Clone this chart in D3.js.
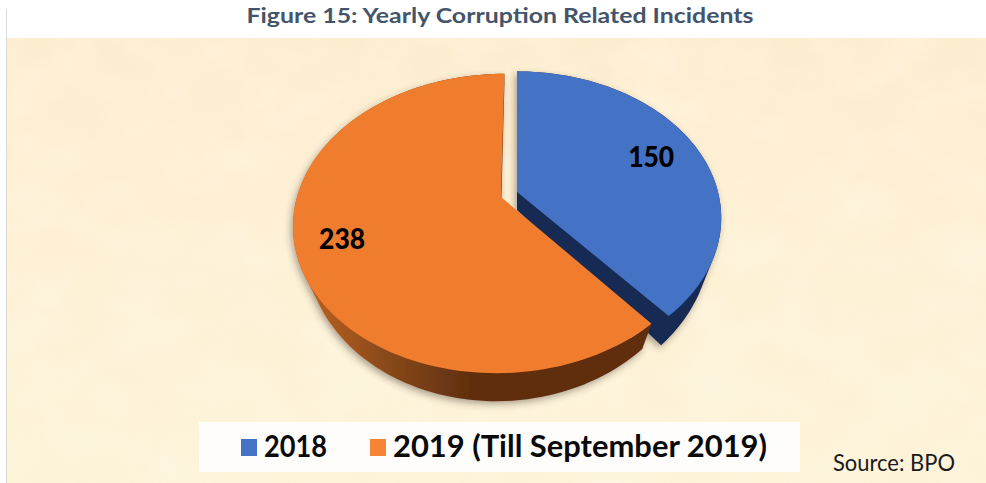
<!DOCTYPE html>
<html>
<head>
<meta charset="utf-8">
<title>Figure 15: Yearly Corruption Related Incidents</title>
<script src="https://d3js.org/d3.v7.min.js"></script>
<style>
    html, body { margin: 0; background: #fff; }
    svg { display: block; }
    text { font-family: Lato, "Open Sans", sans-serif; }
</style>
</head>
<body>
<svg id="chart" width="986" height="483"></svg>
<script>
var titleText = "Figure 15: Yearly Corruption Related Incidents";
var sourceText = "Source: BPO";
var categories = ["2018", "2019 (Till September 2019)"];
var values = [150, 238];
var topColors = ["#4472c4", "#f07d2e"];
var swatchColors = ["#4472c4", "#f58535"];

var svg = d3.select("#chart");
var defs = svg.append("defs");

// parchment background
var bgGrad = defs.append("linearGradient").attr("id", "bgGrad")
    .attr("x1", 0).attr("y1", 0).attr("x2", 0).attr("y2", 1);
bgGrad.append("stop").attr("offset", 0).attr("stop-color", "#fdedcf");
bgGrad.append("stop").attr("offset", 0.55).attr("stop-color", "#fdf1d6");
bgGrad.append("stop").attr("offset", 1).attr("stop-color", "#fdf3d8");

var tex = defs.append("filter").attr("id", "paper")
    .attr("x", 0).attr("y", 0).attr("width", 1).attr("height", 1);
tex.append("feTurbulence").attr("type", "fractalNoise")
    .attr("baseFrequency", "0.016 0.022").attr("numOctaves", 3).attr("seed", 7);
tex.append("feColorMatrix").attr("type", "matrix")
    .attr("values", "0 0 0 0 1  0 0 0 0 0.97  0 0 0 0 0.86  1.3 0 0 0 -0.45");

svg.append("rect").attr("x", 7).attr("y", 38).attr("width", 979).attr("height", 445)
    .attr("fill", "url(#bgGrad)");
svg.append("rect").attr("x", 7).attr("y", 38).attr("width", 979).attr("height", 445)
    .attr("filter", "url(#paper)").attr("opacity", 0.45);
svg.append("rect").attr("x", 6).attr("y", 9).attr("width", 1).attr("height", 474)
    .attr("fill", "#d8d8d8");

svg.append("text").attr("x", 500).attr("y", 22.5).attr("text-anchor", "middle")
    .attr("font-size", 21).attr("font-weight", 700).attr("fill", "#44546a")
    .attr("textLength", 507).attr("lengthAdjust", "spacingAndGlyphs")
    .text(titleText);

// pie slices, perspective projection of the disc
var pie = d3.pie().sort(null)(values);
var persp = 0.177;
var slices = [
    { center: [517, 192], r: 201, h: 142, shear: 0, sideR: 0.95, sideH: 1.09, depth: 18, labelAt: 0.745 },
    { center: [501, 197], r: 204, h: 145, shear: 4, sideR: 0.94, sideH: 1.057, depth: 18, labelAt: 0.785 }
];

function project(s, ang, f, side) {
    var x = Math.sin(ang) * f, z = Math.cos(ang) * f;
    var w = 1 / (1 + persp * z);
    var rx = side ? s.r * s.sideR : s.r, ry = side ? s.h * s.sideH : s.h;
    return [s.center[0] + (rx * x + s.shear * z) * w, s.center[1] + (side ? s.depth : 0) - ry * z * w];
}

function sectorPoints(s, d, side) {
    var steps = d3.range(0, 121).map(function(i) {
        return project(s, d.startAngle + (d.endAngle - d.startAngle) * i / 120, 1, side);
    });
    return [[s.center[0], s.center[1] + (side ? s.depth : 0)]].concat(steps);
}

// every piece gets the same winding so the pieces add up under nonzero fill
function closed(points) {
    if (d3.polygonArea(points) < 0) points = points.slice().reverse();
    return d3.line()(points) + "Z";
}

// bottom face, outer wall and the cut face
function wall(s, d) {
    var out = closed(sectorPoints(s, d, true));
    var n = 120;
    for (var i = 0; i < n; i++) {
        var a0 = d.startAngle + (d.endAngle - d.startAngle) * i / n;
        var a1 = d.startAngle + (d.endAngle - d.startAngle) * (i + 1) / n;
        out += closed([project(s, a0, 1, false), project(s, a1, 1, false),
            project(s, a1, 1, true), project(s, a0, 1, true)]);
    }
    out += closed([s.center, project(s, d.endAngle, 1, false), project(s, d.endAngle, 1, true),
        [s.center[0], s.center[1] + s.depth]]);
    return out;
}

var orangeSide = defs.append("linearGradient").attr("id", "orangeSide")
    .attr("gradientUnits", "userSpaceOnUse")
    .attr("x1", 300).attr("y1", 0).attr("x2", 470).attr("y2", 0);
orangeSide.append("stop").attr("offset", 0).attr("stop-color", "#c0631f");
orangeSide.append("stop").attr("offset", 0.5).attr("stop-color", "#8a4a1a");
orangeSide.append("stop").attr("offset", 1).attr("stop-color", "#602f10");

var shadow = defs.append("filter").attr("id", "shadow")
    .attr("x", "-10%").attr("y", "-10%").attr("width", "120%").attr("height", "120%");
shadow.append("feDropShadow").attr("dx", -2).attr("dy", 3).attr("stdDeviation", 3.5)
    .attr("flood-color", "#3a3320").attr("flood-opacity", 0.42);

var sideFills = ["#192c52", "url(#orangeSide)"];

var groups = svg.selectAll("g.slice").data(pie).enter().append("g").attr("class", "slice");
groups.append("path")
    .attr("d", function(d, i) { return wall(slices[i], d); })
    .attr("fill", function(d, i) { return sideFills[i]; })
    .attr("filter", "url(#shadow)");
groups.append("path")
    .attr("d", function(d, i) { return closed(sectorPoints(slices[i], d, false)); })
    .attr("fill", function(d, i) { return topColors[i]; });
groups.append("text")
    .attr("x", function(d, i) { return project(slices[i], (d.startAngle + d.endAngle) / 2, slices[i].labelAt, false)[0]; })
    .attr("y", function(d, i) { return project(slices[i], (d.startAngle + d.endAngle) / 2, slices[i].labelAt, false)[1] + 10; })
    .attr("text-anchor", "middle").attr("font-size", 28).attr("font-weight", 900).attr("fill", "#000")
    .attr("textLength", 46).attr("lengthAdjust", "spacingAndGlyphs")
    .text(function(d) { return d.data; });

// legend
svg.append("rect").attr("x", 199).attr("y", 422).attr("width", 601).attr("height", 50).attr("fill", "#fefdfb");
var legendX = d3.scaleOrdinal().domain(categories).range([241, 370]);
var legend = svg.selectAll("g.legend").data(categories).enter().append("g").attr("class", "legend")
    .attr("transform", function(d) { return "translate(" + legendX(d) + ",439)"; });
legend.append("rect").attr("width", 16).attr("height", 17)
    .attr("fill", function(d, i) { return swatchColors[i]; });
legend.append("text").attr("x", 23).attr("y", 18)
    .attr("font-size", 30).attr("font-weight", 700).attr("fill", "#0a0a0a")
    .attr("textLength", function(d, i) { return i ? 374 : 63; })
    .attr("lengthAdjust", "spacingAndGlyphs")
    .text(function(d) { return d; });

svg.append("text").attr("x", 833).attr("y", 471)
    .attr("font-size", 23).attr("fill", "#1a1a1a")
    .attr("textLength", 122).attr("lengthAdjust", "spacingAndGlyphs")
    .text(sourceText);
</script>
</body>
</html>
